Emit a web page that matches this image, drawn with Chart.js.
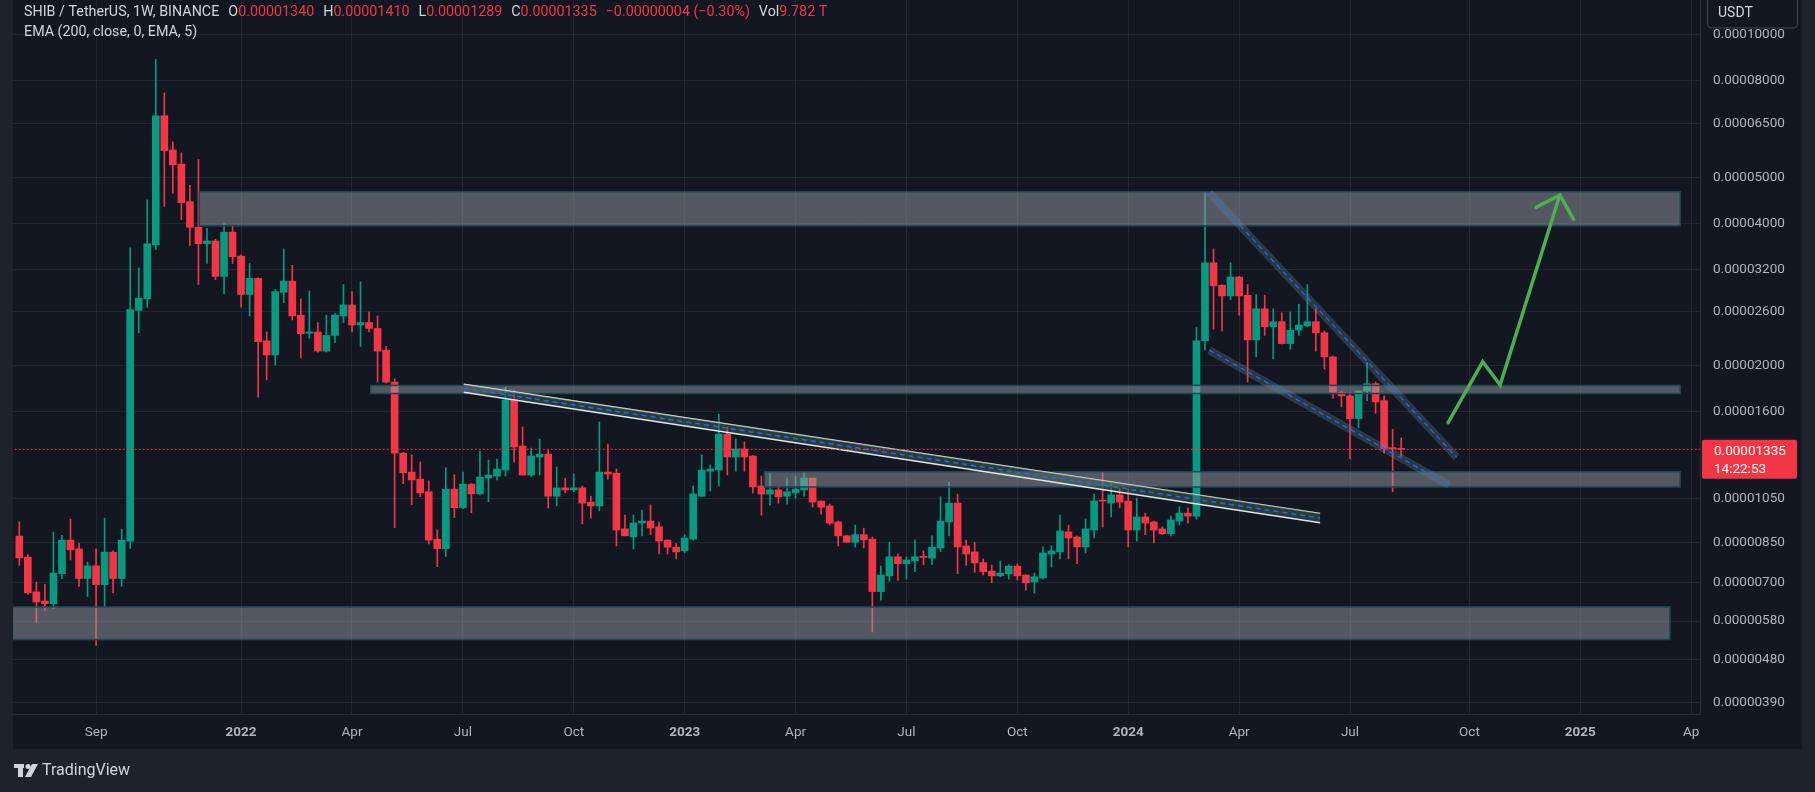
<!DOCTYPE html>
<html>
<head>
<meta charset="utf-8">
<title>SHIB / TetherUS 1W</title>
<script src="https://cdn.jsdelivr.net/npm/chart.js@4.4.1/dist/chart.umd.min.js"></script>
<style>
  html, body { margin: 0; padding: 0; background: #1e222d; overflow: hidden; }
  canvas { display: block; }
</style>
</head>
<body>
<canvas id="chart" width="1815" height="792"></canvas>
<script>
// SHIB / TetherUS weekly candles, first bar = week of 2021-07-05
// prices are in millionths of a USDT (1 = 0.000001)
const opens = [
  8.76, 7.91, 6.68, 6.39, 6.31, 7.30, 8.59, 8.23, 7.13, 7.58, 6.92, 8.10, 7.13, 8.55, 26.2, 27.7, 36.0, 67.4, 57.1, 53.3,
  44.4, 39.2, 36.2, 36.7, 30.9, 38.3, 34.1, 28.3, 30.6, 22.6, 21.1, 28.6, 30.2, 25.6, 23.45, 23.6, 21.5, 23.2, 25.5, 26.9,
  24.4, 24.7, 24.0, 21.6, 18.5, 13.1, 11.95, 11.55, 10.86, 8.63, 8.24, 11.0, 10.05, 11.27, 10.75, 11.61, 11.72, 12.07, 16.96, 13.56,
  11.78, 12.86, 13.04, 10.63, 11.07, 10.96, 11.07, 10.33, 10.14, 11.95, 11.89, 9.07, 8.72, 9.33, 9.42, 9.16, 8.59, 8.30, 8.15, 8.63,
  10.63, 12.0, 12.07, 14.37, 12.86, 13.37, 12.92, 11.17, 10.74, 10.96, 10.63, 10.8, 10.96, 11.61, 10.38, 10.14, 9.38, 8.77, 8.50, 8.82,
  8.63, 6.69, 7.22, 7.92, 7.66, 7.77, 7.93, 7.87, 8.27, 9.38, 10.28, 8.35, 8.11, 7.70, 7.39, 7.22, 7.29, 7.57, 7.25, 7.01,
  7.15, 8.03, 8.11, 8.94, 8.72, 8.31, 9.02, 10.42, 10.28, 10.7, 10.38, 9.02, 9.61, 9.38, 9.07, 8.86, 9.42, 9.79, 9.65, 22.6,
  33.0, 29.6, 28.1, 30.8, 28.2, 22.7, 26.4, 24.2, 24.8, 22.3, 23.8, 24.3, 24.8, 23.5, 20.9, 17.6, 17.3, 15.5, 17.7, 18.35,
  16.9, 13.4, 13.40
];
const highs = [
  9.38, 8.01, 7.01, 6.93, 8.93, 8.79, 9.51, 8.47, 7.72, 8.23, 9.56, 8.15, 9.06, 35.5, 32.2, 44.8, 88.7, 75.3, 59.4, 56.3,
  48.1, 54.5, 39.0, 37.0, 40.0, 39.6, 34.3, 32.9, 30.7, 23.6, 29.0, 35.3, 32.6, 27.7, 28.8, 24.7, 25.6, 25.8, 29.7, 28.7,
  30.1, 26.0, 25.5, 22.0, 18.8, 13.15, 13.0, 12.55, 11.45, 9.02, 12.2, 11.8, 11.95, 11.3, 13.24, 12.67, 12.73, 18.04, 17.77, 14.88,
  13.43, 14.03, 13.3, 12.25, 11.6, 11.84, 11.17, 10.63, 15.24, 13.69, 12.13, 9.7, 9.7, 9.94, 10.19, 9.38, 8.6, 8.45, 8.82, 11.17,
  12.99, 12.37, 15.84, 14.88, 14.03, 13.83, 12.95, 11.72, 11.89, 11.12, 11.61, 11.72, 11.95, 11.62, 10.4, 10.23, 9.42, 8.8, 9.24, 9.1,
  8.72, 7.57, 8.51, 8.04, 7.92, 8.59, 8.15, 8.77, 10.6, 11.39, 10.74, 8.59, 8.5, 7.84, 7.61, 7.76, 7.62, 7.65, 7.26, 7.32,
  8.31, 8.35, 9.7, 9.24, 8.77, 9.52, 10.74, 12.0, 11.33, 11.07, 11.01, 10.54, 9.79, 9.42, 9.16, 9.65, 10.1, 10.04, 24.1, 46.4,
  35.3, 29.7, 33.0, 30.9, 29.7, 28.3, 28.2, 26.4, 25.9, 26.0, 27.0, 29.7, 26.4, 23.7, 21.0, 17.7, 17.6, 17.75, 20.3, 18.5,
  17.3, 14.7, 14.10
];
const lows = [
  7.60, 6.61, 5.75, 6.10, 6.16, 7.12, 7.80, 6.86, 6.53, 5.15, 6.21, 6.65, 6.86, 8.24, 23.5, 26.6, 35.2, 43.4, 46.2, 40.7,
  35.9, 29.7, 32.9, 30.4, 28.4, 32.9, 26.6, 25.5, 17.2, 18.7, 20.1, 27.2, 25.0, 20.8, 22.9, 21.4, 21.4, 22.4, 24.7, 23.6,
  22.0, 23.6, 18.5, 18.4, 9.12, 11.3, 10.2, 10.6, 8.43, 7.55, 7.93, 9.58, 10.0, 9.81, 10.7, 10.35, 11.5, 11.72, 12.55, 11.78,
  11.7, 11.78, 10.04, 10.14, 10.8, 10.86, 9.29, 9.56, 9.9, 11.55, 8.35, 8.77, 8.23, 8.77, 8.82, 8.03, 8.03, 7.84, 8.07, 8.59,
  10.6, 10.9, 11.17, 11.78, 12.0, 12.0, 10.8, 9.7, 10.19, 10.28, 10.23, 10.54, 10.63, 10.08, 9.74, 9.24, 8.35, 8.5, 8.3, 8.27,
  5.5, 6.42, 7.03, 7.06, 7.11, 7.37, 7.62, 7.62, 8.12, 8.77, 7.3, 7.6, 7.35, 7.25, 6.98, 7.19, 7.11, 7.08, 6.74, 6.64,
  7.11, 7.54, 7.84, 7.84, 7.66, 8.07, 8.68, 9.15, 9.61, 10.04, 8.31, 8.55, 8.82, 8.47, 8.82, 8.77, 9.24, 9.33, 9.5, 21.6,
  23.9, 23.7, 27.6, 25.6, 18.5, 20.9, 23.2, 20.7, 22.25, 21.7, 23.2, 24.2, 21.5, 19.7, 17.1, 16.4, 12.75, 14.8, 16.9, 15.9,
  13.1, 10.86, 12.89
];
const closes = [
  7.88, 6.65, 6.36, 6.31, 7.32, 8.59, 8.19, 7.13, 7.58, 6.92, 8.10, 7.13, 8.59, 26.3, 27.8, 36.2, 67.4, 56.9, 53.1, 44.2,
  39.2, 36.2, 36.7, 30.9, 38.3, 34.0, 28.3, 30.6, 22.5, 21.1, 28.7, 30.2, 25.5, 23.4, 23.6, 21.5, 23.2, 25.6, 26.9, 24.4,
  24.7, 24.0, 21.5, 18.5, 13.1, 11.91, 11.5, 10.8, 8.59, 8.24, 11.0, 10.05, 11.27, 10.75, 11.66, 11.78, 12.13, 16.96, 13.5, 11.78,
  12.92, 13.04, 10.63, 11.07, 10.96, 11.07, 10.28, 10.14, 11.95, 11.84, 9.02, 8.77, 9.33, 9.42, 9.11, 8.55, 8.30, 8.11, 8.68, 10.75,
  12.07, 12.13, 14.37, 12.86, 13.37, 12.86, 11.12, 10.74, 10.96, 10.6, 10.86, 11.0, 11.61, 10.33, 10.08, 9.33, 8.77, 8.50, 8.82, 8.60,
  6.69, 7.25, 7.92, 7.66, 7.80, 7.92, 7.90, 8.30, 9.42, 10.28, 8.31, 8.03, 7.69, 7.37, 7.22, 7.32, 7.57, 7.22, 6.98, 7.19,
  8.07, 8.15, 8.98, 8.68, 8.31, 9.07, 10.39, 10.38, 10.7, 10.33, 9.02, 9.61, 9.33, 9.02, 8.86, 9.47, 9.79, 9.65, 22.6, 33.0,
  29.5, 28.1, 30.8, 28.1, 22.7, 26.4, 24.2, 24.8, 22.3, 23.8, 24.4, 24.8, 23.5, 20.9, 17.6, 17.3, 15.5, 17.7, 18.35, 16.8,
  13.4, 13.39, 13.35
];
const lastPrice = 13.35;

// axis ticks
const priceTicks = [100, 80, 65, 50, 40, 32, 26, 20, 16, 10.5, 8.5, 7, 5.8, 4.8, 3.9];
const priceTickLabels = ['0.00010000', '0.00008000', '0.00006500', '0.00005000', '0.00004000', '0.00003200',
  '0.00002600', '0.00002000', '0.00001600', '0.00001050', '0.00000850', '0.00000700', '0.00000580',
  '0.00000480', '0.00000390'];
const timeTicks = [9, 26, 39, 52, 65, 78, 91, 104, 117, 130, 143, 156, 170, 183, 196];
const timeTickLabels = ['Sep', '2022', 'Apr', 'Jul', 'Oct', '2023', 'Apr', 'Jul', 'Oct', '2024', 'Apr', 'Jul', 'Oct', '2025', 'Ap'];

// support / resistance boxes (bar index, price)
const zoneFrom = [21.1, 41.2, 87.35, -0.8];
const zoneTo = [194.7, 194.7, 194.7, 193.5];
const zoneTop = [46.6, 18.2, 11.97, 6.21];
const zoneBottom = [39.5, 17.5, 11.12, 5.30];

// long descending trendline band
const trendX = [52.1, 152.5];
const trendTop = [18.3, 9.78];
const trendBottom = [17.6, 9.34];
const trendMid = [17.95, 9.56];

// falling wedge
const wedgeUpperX = [139.5, 168.5];
const wedgeUpper = [46.4, 12.84];
const wedgeLowerX = [139.5, 167.6];
const wedgeLower = [21.6, 11.22];

// projected path arrow
const arrowX = [167.5, 171.56, 173.6, 180.6];
const arrowY = [15.19, 20.42, 18.24, 45.87];
const arrowHeadX = [177.8, 180.6, 182.2];
const arrowHeadY = [43.2, 45.87, 40.77];

const UP = '#089981';
const DOWN = '#f23645';
const GRID = 'rgba(54,58,69,0.45)';
const TEXT = '#d1d4dc';
const AXIS_TEXT = '#b2b5be';

Chart.defaults.font.family = 'Roboto, "Liberation Sans", sans-serif';

// candle pieces
const wickData = opens.map((o, i) => ({ x: i, y: [lows[i], highs[i]] }));
const bodyData = opens.map((o, i) => ({ x: i, y: [o, closes[i]] }));
const candleColors = opens.map((o, i) => (closes[i] >= o ? UP : DOWN));

function pts(xs, ys) {
  return xs.map((x, i) => ({ x, y: ys[i] }));
}

// panel background
const backgroundPlugin = {
  id: 'panelBackground',
  beforeDraw(chart) {
    const ctx = chart.ctx;
    ctx.save();
    ctx.fillStyle = '#1e222d';
    ctx.fillRect(0, 0, chart.width, chart.height);
    ctx.fillStyle = '#131722';
    ctx.fillRect(13, 0, 1789, 749);
    ctx.restore();
  }
};

// grey zones drawn just over the candles
const zonePlugin = {
  id: 'zones',
  afterDatasetDraw(chart, args) {
    if (args.index !== 1) return;
    const { ctx, chartArea, scales } = chart;
    ctx.save();
    ctx.beginPath();
    ctx.rect(chartArea.left, chartArea.top, chartArea.width, chartArea.height);
    ctx.clip();
    zoneFrom.forEach((from, i) => {
      const x1 = scales.x.getPixelForValue(from);
      const x2 = scales.x.getPixelForValue(zoneTo[i]);
      const y1 = scales.y.getPixelForValue(zoneTop[i]);
      const y2 = scales.y.getPixelForValue(zoneBottom[i]);
      ctx.fillStyle = 'rgba(150,153,162,0.5)';
      ctx.fillRect(x1, y1, x2 - x1, y2 - y1);
      ctx.strokeStyle = '#1f4855';
      ctx.lineWidth = 1.5;
      ctx.strokeRect(x1, y1, x2 - x1, y2 - y1);
    });
    ctx.restore();
  }
};

// header, price tag, currency box and logo
const overlayPlugin = {
  id: 'overlay',
  afterDraw(chart) {
    const { ctx, scales } = chart;
    ctx.save();

    // legend line
    ctx.font = '14.3px Roboto';
    ctx.textBaseline = 'middle';
    let x = 24;
    const parts = [
      ['SHIB / TetherUS, 1W, BINANCE', TEXT, 9],
      ['O', TEXT, 0], ['0.00001340', DOWN, 9],
      ['H', TEXT, 0], ['0.00001410', DOWN, 9],
      ['L', TEXT, 0], ['0.00001289', DOWN, 9],
      ['C', TEXT, 0], ['0.00001335', DOWN, 9],
      ['\u22120.00000004 (\u22120.30%)', DOWN, 9],
      ['Vol', TEXT, 0], ['9.782 T', DOWN, 0]
    ];
    parts.forEach(([t, c, gap]) => {
      ctx.fillStyle = c;
      ctx.fillText(t, x, 12);
      x += ctx.measureText(t).width + gap;
    });
    ctx.fillStyle = TEXT;
    ctx.fillText('EMA (200, close, 0, EMA, 5)', 24, 32);

    // last price tag
    const py = scales.y.getPixelForValue(lastPrice);
    ctx.fillStyle = DOWN;
    ctx.beginPath();
    ctx.roundRect(1702, py - 9.5, 95, 39, 2);
    ctx.fill();
    ctx.fillStyle = '#ffffff';
    ctx.font = '13.5px Roboto';
    ctx.fillText('0.00001335', 1714, py + 2);
    ctx.fillText('14:22:53', 1714, py + 20);

    // currency box
    ctx.fillStyle = '#131722';
    ctx.strokeStyle = '#434651';
    ctx.lineWidth = 1;
    ctx.beginPath();
    ctx.roundRect(1707.5, -6, 90, 34, 4);
    ctx.fill();
    ctx.stroke();
    ctx.fillStyle = TEXT;
    ctx.font = '14px Roboto';
    ctx.fillText('USDT', 1718, 13);

    // TradingView logo
    ctx.fillStyle = TEXT;
    ctx.fillRect(14, 764, 10, 4);
    ctx.fillRect(18, 764, 5, 13);
    ctx.beginPath();
    ctx.arc(28, 766.5, 2.5, 0, Math.PI * 2);
    ctx.fill();
    ctx.beginPath();
    ctx.moveTo(32, 764);
    ctx.lineTo(38, 764);
    ctx.lineTo(31, 777);
    ctx.lineTo(25, 777);
    ctx.closePath();
    ctx.fill();
    ctx.font = '16px Roboto';
    ctx.fillText('TradingView', 42, 771);
    ctx.restore();
  }
};

const lineBase = { type: 'line', pointRadius: 0, fill: false, tension: 0 };

new Chart(document.getElementById('chart'), {
  type: 'bar',
  data: {
    datasets: [
      { label: 'Wicks', data: wickData, backgroundColor: candleColors, barThickness: 1, grouped: false,
        minBarLength: 1, borderWidth: 0, order: 20 },
      { label: 'Bodies', data: bodyData, backgroundColor: candleColors, barThickness: 7, grouped: false,
        minBarLength: 1, borderWidth: 0, order: 19 },
      // long trendline band
      { ...lineBase, label: 'TrendTop', data: pts(trendX, trendTop), borderColor: '#e0e3eb', borderWidth: 1.5, order: 9 },
      { ...lineBase, label: 'TrendBottom', data: pts(trendX, trendBottom), borderColor: '#e0e3eb', borderWidth: 1.5,
        fill: '-1', backgroundColor: 'rgba(62,100,72,0.5)', order: 8 },
      { ...lineBase, label: 'TrendMid', data: pts(trendX, trendMid), borderColor: '#2962ff', borderWidth: 1.5,
        borderDash: [5, 4], order: 7 },
      // falling wedge
      { ...lineBase, label: 'WedgeUpperBand', data: pts(wedgeUpperX, wedgeUpper), borderColor: 'rgba(100,135,160,0.3)',
        borderWidth: 8, order: 6 },
      { ...lineBase, label: 'WedgeLowerBand', data: pts(wedgeLowerX, wedgeLower), borderColor: 'rgba(100,135,160,0.3)',
        borderWidth: 8, order: 6 },
      { ...lineBase, label: 'WedgeUpper', data: pts(wedgeUpperX, wedgeUpper), borderColor: '#2962ff', borderWidth: 1.2,
        borderDash: [5, 4], order: 5 },
      { ...lineBase, label: 'WedgeLower', data: pts(wedgeLowerX, wedgeLower), borderColor: '#2962ff', borderWidth: 1.2,
        borderDash: [5, 4], order: 5 },
      // projection arrow
      { ...lineBase, label: 'Arrow', data: pts(arrowX, arrowY), borderColor: '#4caf50', borderWidth: 3.5,
        borderCapStyle: 'round', order: 4 },
      { ...lineBase, label: 'ArrowHead', data: pts(arrowHeadX, arrowHeadY), borderColor: '#4caf50', borderWidth: 3.5,
        borderCapStyle: 'round', order: 4 },
      // last price line
      { ...lineBase, label: 'Last', data: [{ x: -1, y: lastPrice }, { x: 198, y: lastPrice }], borderColor: DOWN,
        borderWidth: 1, borderDash: [2, 2], order: 3 }
    ]
  },
  options: {
    responsive: false,
    devicePixelRatio: 1,
    animation: false,
    events: [],
    layout: { padding: { left: 13, right: 13, top: 0, bottom: 43 } },
    plugins: { legend: { display: false }, tooltip: { enabled: false } },
    scales: {
      x: {
        type: 'linear',
        offset: false,
        min: -0.74,
        max: 197.03,
        afterBuildTicks: s => { s.ticks = timeTicks.map(v => ({ value: v })); },
        afterFit: s => { s.height = 35; s.paddingLeft = 0; s.paddingRight = 0; },
        grid: { color: GRID, drawTicks: false, offset: false },
        border: { color: '#2a2e39' },
        ticks: {
          autoSkip: false,
          maxRotation: 0,
          padding: 11,
          color: AXIS_TEXT,
          callback: (v, i) => timeTickLabels[i],
          font: ctx => ({ size: 13.5, weight: /^\d{4}$/.test(timeTickLabels[ctx.index] || '') ? 'bold' : 'normal' })
        }
      },
      y: {
        type: 'logarithmic',
        position: 'right',
        min: 3.693,
        max: 118.2,
        afterBuildTicks: s => { s.ticks = priceTicks.map(v => ({ value: v })); },
        afterFit: s => { s.width = 102; s.paddingTop = 0; s.paddingBottom = 0; },
        grid: { color: GRID, drawTicks: false },
        border: { color: '#2a2e39' },
        ticks: {
          autoSkip: false,
          padding: 13,
          color: AXIS_TEXT,
          font: { size: 13.5 },
          callback: (v, i) => priceTickLabels[i]
        }
      }
    }
  },
  plugins: [backgroundPlugin, zonePlugin, overlayPlugin]
});
</script>
</body>
</html>
